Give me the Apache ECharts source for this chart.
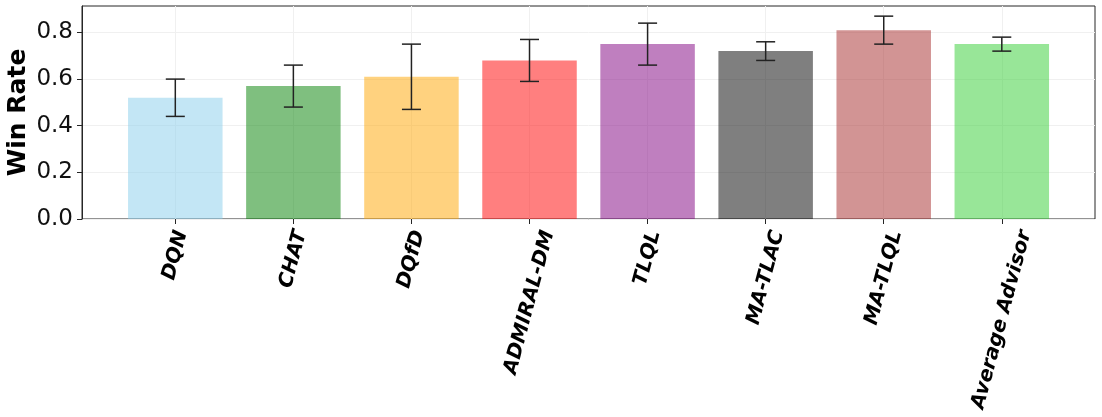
<!DOCTYPE html>
<html>
<head>
<meta charset="utf-8">
<script src="https://cdn.jsdelivr.net/npm/echarts@6/dist/echarts.min.js"></script>
<style>
  html, body { margin: 0; padding: 0; background: #fff; }
  #chart { width: 1102px; height: 417px; }
</style>
</head>
<body>
<div id="chart"></div>
<script>
  // data
  var methods = ['DQN', 'CHAT', 'DQfD', 'ADMIRAL-DM', 'TLQL', 'MA-TLAC', 'MA-TLQL', 'Average Advisor'];
  var winRate = [0.52, 0.57, 0.61, 0.68, 0.75, 0.72, 0.81, 0.75];
  var winErr = [0.08, 0.09, 0.14, 0.09, 0.09, 0.04, 0.06, 0.03];
  var barColors = ['#87ceeb', '#008000', '#ffa500', '#ff0000', '#800080', '#000000', '#a52a2a', '#32cd32'];
  var yTicks = [0, 0.2, 0.4, 0.6, 0.8];

  // matplotlib style auto limit: 5% margin above the highest error cap
  var yMax = Math.max.apply(null, winRate.map(function (v, i) { return v + winErr[i]; })) * 1.05;

  var labelFont = 'italic bold 20px "DejaVu Sans"';
  var ctx = document.createElement('canvas').getContext('2d');
  ctx.font = labelFont;
  var rot = 75 * Math.PI / 180;

  var chart = echarts.init(document.getElementById('chart'));

  // grid 0: bars (centres line up with matplotlib's x positions)
  // grid 1: the framed plot area with y labels
  var grid0 = { left: 175.3, right: 100.2, top: 6, bottom: 198, outerBoundsMode: 'none', containLabel: false };
  var grid1 = {
    left: 82, right: 7, top: 6, bottom: 198, outerBoundsMode: 'none', containLabel: false,
    show: true, borderColor: '#262626', borderWidth: 1
  };

  chart.setOption({
    animation: false,
    grid: [grid0, grid1],
    xAxis: [{
      type: 'category', gridIndex: 0, data: methods, boundaryGap: false,
      axisLine: { show: false },
      axisTick: { show: true, length: 5, lineStyle: { color: '#262626', width: 1 } },
      axisLabel: { show: false },
      splitLine: { show: true, lineStyle: { color: '#f0f0f0', width: 1 } }
    }, {
      type: 'value', gridIndex: 1, min: 0, max: 1, show: false
    }],
    yAxis: [{
      type: 'value', gridIndex: 0, min: 0, max: yMax, show: false
    }, {
      type: 'value', gridIndex: 1, min: 0, max: yMax, interval: 0.2,
      name: 'Win Rate', nameLocation: 'middle', nameGap: 51, nameMoveOverlap: false,
      nameTextStyle: { fontFamily: 'DejaVu Sans', fontWeight: 'bold', fontSize: 25, color: '#000' },
      axisLine: { show: true, lineStyle: { color: '#262626', width: 1 } },
      axisTick: { show: true, length: 5, customValues: yTicks, lineStyle: { color: '#262626', width: 1 } },
      axisLabel: {
        customValues: yTicks, margin: 9, fontFamily: 'DejaVu Sans', fontSize: 23, color: '#111',
        formatter: function (v) { return v.toFixed(1); }
      },
      splitLine: { show: true, lineStyle: { color: '#f0f0f0', width: 1 } }
    }],
    series: [{
      type: 'bar', xAxisIndex: 0, yAxisIndex: 0, clip: false,
      barWidth: 94.5,
      data: winRate.map(function (v, i) {
        return { value: v, itemStyle: { color: barColors[i], opacity: 0.5 } };
      })
    }, {
      // error bars
      type: 'custom', xAxisIndex: 0, yAxisIndex: 0, clip: false, z: 4,
      data: winRate.map(function (v, i) { return [i, v - winErr[i], v + winErr[i]]; }),
      renderItem: function (params, api) {
        var lo = api.coord([api.value(0), api.value(1)]);
        var hi = api.coord([api.value(0), api.value(2)]);
        var cap = 9.5;
        var st = { stroke: '#222', lineWidth: 1.5 };
        return {
          type: 'group',
          children: [
            { type: 'line', shape: { x1: lo[0], y1: lo[1], x2: hi[0], y2: hi[1] }, style: st },
            { type: 'line', shape: { x1: lo[0] - cap, y1: lo[1], x2: lo[0] + cap, y2: lo[1] }, style: st },
            { type: 'line', shape: { x1: hi[0] - cap, y1: hi[1], x2: hi[0] + cap, y2: hi[1] }, style: st }
          ]
        };
      }
    }, {
      // rotated tick labels, centred like matplotlib's ha='center'
      type: 'custom', xAxisIndex: 0, yAxisIndex: 0, clip: false, silent: true,
      data: methods.map(function (m, i) { return [i, 0]; }),
      renderItem: function (params, api) {
        var i = api.value(0);
        var p = api.coord([i, 0]);
        var text = methods[i];
        var L = ctx.measureText(text).width;
        var h = 23;
        var H = L * Math.sin(rot) + h * Math.cos(rot);
        var top = p[1] + 9;
        return {
          type: 'text',
          x: p[0], y: top + H / 2, rotation: rot,
          style: {
            text: text, font: labelFont, fill: '#000',
            align: 'center', verticalAlign: 'middle'
          }
        };
      }
    }]
  });
</script>
</body>
</html>
